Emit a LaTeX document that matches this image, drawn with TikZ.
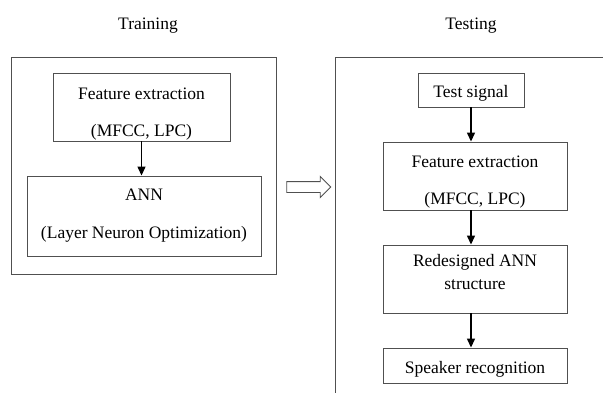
\documentclass[tikz,border=0pt]{standalone}
\usepackage{fontspec}
\setmainfont{Liberation Serif}
\usetikzlibrary{arrows.meta, shapes.arrows}
\definecolor{boxgray}{HTML}{505050}
\tikzset{
    stage/.style={draw=boxgray, line width=0.9pt, align=center, inner sep=0pt},
    flow/.style={black, line width=1.3pt, -{Triangle[length=9pt, width=8pt]}},
}

\begin{document}
\begin{tikzpicture}[x=1pt, y=-1pt, font=\fontsize{17.5}{23}\selectfont]
    \useasboundingbox (0,0) rectangle (603,392);
    \clip (0,0) rectangle (603,392);
    %
    \node (traintitle) at (148,26) {Training};
    \node (testtitle) at (471,26) {Testing};
    %
    \draw[boxgray, line width=0.9pt] (11,57) rectangle (276,274);
    \draw[boxgray, line width=0.9pt] (335,57) rectangle (640,420);
    %
    \node[stage, minimum width=177pt, minimum height=68pt] (trainfeat) at (141.5,107) {\rule{0pt}{25pt}Feature extraction\\[14pt](MFCC, LPC)};
    \node[stage, minimum width=234pt, minimum height=80pt] (ann) at (144,216) {ANN\\[15pt](Layer Neuron Optimization)};
    \draw[flow] (trainfeat.south) -- (trainfeat.south |- ann.north);
    %
    \node[draw=boxgray, line width=0.9pt, single arrow, single arrow head extend=5pt, single arrow head indent=0pt,
          minimum height=44pt, minimum width=20pt, inner xsep=0pt, inner ysep=5pt] (switch) at (306,187) {};
    %
    \node[stage, minimum width=106pt, minimum height=34pt] (signal) at (471,90) {\rule{0pt}{19pt}Test signal};
    \node[stage, minimum width=184pt, minimum height=68pt] (testfeat) at (475,176) {\rule{0pt}{24pt}Feature extraction\\[14pt](MFCC, LPC)};
    \node[stage, minimum width=184pt, minimum height=68pt] (redesign) at (475,279) {Redesigned ANN\\structure\rule[-14pt]{0pt}{0pt}};
    \node[stage, minimum width=184pt, minimum height=35pt] (speaker) at (475,365.5) {\rule{0pt}{19pt}Speaker recognition};
    %
    \draw[flow] (signal.south) -- (signal.south |- testfeat.north);
    \draw[flow] (testfeat.south -| signal.south) -- (signal.south |- redesign.north);
    \draw[flow] (redesign.south -| signal.south) -- (signal.south |- speaker.north);
\end{tikzpicture}
\end{document}
